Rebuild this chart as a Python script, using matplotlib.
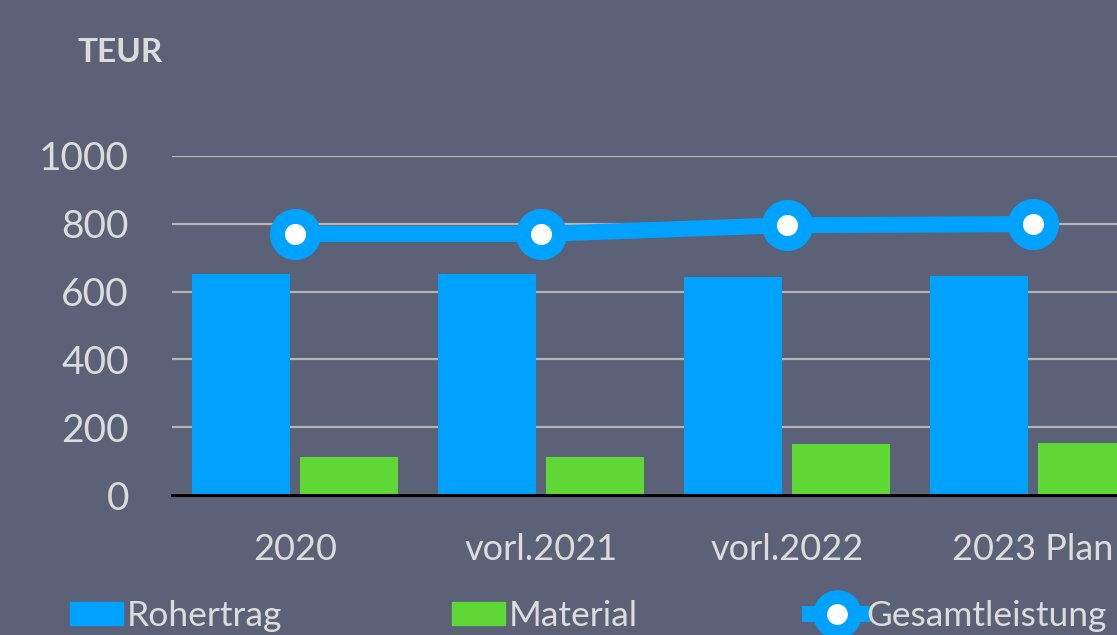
import numpy as np
import matplotlib.pyplot as plt
from matplotlib.lines import Line2D
from matplotlib.patches import Patch

# data
categories = ['2020', 'vorl.2021', 'vorl.2022', '2023 Plan']
rohertrag = [652, 652, 643, 646]
material = [112, 112, 150, 152]
gesamtleistung = [770, 770, 796, 799]
y_ticks = [0, 200, 400, 600, 800, 1000]

BG = '#5b6177'
BLUE = '#00a2ff'
GREEN = '#5fd835'
TXT = '#dcdcdc'

plt.rcParams['font.family'] = ['Lato', 'DejaVu Sans']

W, H = 1117, 635
fig = plt.figure(figsize=(W / 100, H / 100), dpi=100, facecolor=BG)

# axes box in pixel coords of the reference (right part is cut off)
left, right, top, bottom = 172, 1117, 156, 495
ax = fig.add_axes([left / W, 1 - bottom / H, (right - left) / W, (bottom - top) / H])
ax.set_facecolor(BG)

x = np.arange(len(categories))
bw = 0.4
ax.bar(x - 0.22, rohertrag, bw, color=BLUE, zorder=2)
ax.bar(x + 0.22, material, bw, color=GREEN, zorder=2)
ax.plot(x, gesamtleistung, '-o', color=BLUE, lw=11.5, ms=26, mew=10.8,
        mfc='white', mec=BLUE, zorder=4, clip_on=False)

ax.set_xlim(-0.5, -0.5 + (right - left) / 246)
ax.set_ylim(0, 1000)
ax.set_yticks(y_ticks)
ax.set_xticks(x)
ax.set_xticklabels(categories)
ax.tick_params(axis='y', length=0, labelsize=28, colors=TXT, pad=31)
ax.tick_params(axis='x', length=0, labelsize=26, colors=TXT, pad=27)
ax.grid(axis='y', color='#b4b4b4', lw=1.6, zorder=1)
ax.set_axisbelow(True)
for s in ['top', 'right', 'left']:
    ax.spines[s].set_visible(False)
ax.spines['bottom'].set_color('black')
ax.spines['bottom'].set_linewidth(2.2)
ax.spines['bottom'].set_zorder(3)

fig.text(77 / W, 1 - 52 / H, 'TEUR', fontsize=24, fontweight='bold',
         color=TXT, va='center', ha='left')

# legend entries placed one by one like the reference
items = [
    (Patch(color=BLUE), 'Rohertrag', 70),
    (Patch(color=GREEN), 'Material', 452),
    (Line2D([0], [0], color=BLUE, lw=11.5, marker='o', ms=25, mew=10,
            mfc='white', mec=BLUE), 'Gesamtleistung', 810),
]
for h, lab, px in items:
    leg = fig.legend([h], [lab], loc='center left',
                     bbox_to_anchor=(px / W, 1 - 616 / H),
                     frameon=False, fontsize=25.5, labelcolor=TXT,
                     handlelength=1.5, handleheight=0.6,
                     handletextpad=0.1, borderpad=0, borderaxespad=0)

fig.savefig('out.png', dpi=100, facecolor=BG)
